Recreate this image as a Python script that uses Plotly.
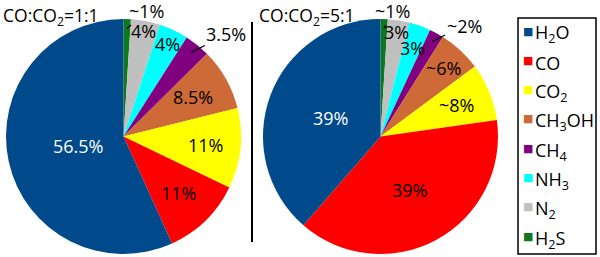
import math
import plotly.graph_objects as go

# ---- data (legend order) ----
species = ["H<sub>2</sub>O", "CO", "CO<sub>2</sub>", "CH<sub>3</sub>OH", "CH<sub>4</sub>",
           "NH<sub>3</sub>", "N<sub>2</sub>", "H<sub>2</sub>S"]
colors = ["#004a8c", "#ff0000", "#ffff00", "#cd6a37", "#800080", "#00ffff", "#c0c0c0", "#0b7a1f"]

vals_11 = [56.5, 11, 11, 8.5, 3.5, 4, 4, 1]
text_11 = ["56.5%", "11%", "11%", "8.5%", "3.5%", "4%", "4%", "~1%"]
vals_51 = [39, 39, 8, 6, 2, 3, 3, 1]
text_51 = ["39%", "39%", "~8%", "~6%", "~2%", "3%", "3%", "~1%"]

titles = ["CO:CO<sub>2</sub>=1:1", "CO:CO<sub>2</sub>=5:1"]

# ---- style ----
FONT = "Open Sans"
W, H = 600, 257
tcolors = ["white"] + ["black"] * 7
# label radius (fraction of R) for inside labels, None -> callout
rfrac_11 = [0.40, 0.67, 0.70, 0.68, None, 0.87, 0.91, None]
rfrac_51 = [0.45, 0.52, 0.70, 0.79, None, 0.80, 0.90, None]
# callout offsets (px) for small slices
call_11 = {4: (35, -18), 7: (20, -17)}
call_51 = {4: (32, -16), 7: (9, -17)}

pies = [
    dict(vals=vals_11, txt=text_11, rf=rfrac_11, call=call_11, cx=123.5, cy=136.5, R=117.5),
    dict(vals=vals_51, txt=text_51, rf=rfrac_51, call=call_51, cx=380.5, cy=136.5, R=117.5),
]

fig = go.Figure()
for p in pies:
    # clockwise order from 12 o'clock starts with the last legend entry
    fig.add_trace(go.Pie(
        labels=species[::-1], values=p["vals"][::-1],
        marker=dict(colors=colors[::-1], line=dict(width=0)),
        sort=False, direction="clockwise", rotation=0,
        textinfo="none", hoverinfo="skip", showlegend=False,
        domain=dict(x=[(p["cx"] - p["R"]) / W, (p["cx"] + p["R"]) / W],
                    y=[1 - (p["cy"] + p["R"]) / H, 1 - (p["cy"] - p["R"]) / H]),
    ))
    total = sum(p["vals"])
    cum = 0.0
    for i, v in enumerate(p["vals"]):
        # legend order goes counter-clockwise from 12 o'clock
        mid = -(cum + v / 2) / total * 2 * math.pi
        cum += v
        sx, sy = math.sin(mid), math.cos(mid)
        if p["rf"][i] is not None:
            r = p["rf"][i] * p["R"]
            fig.add_annotation(
                text=p["txt"][i], x=(p["cx"] + r * sx) / W, y=1 - (p["cy"] - r * sy) / H,
                xref="paper", yref="paper", showarrow=False,
                xanchor="center", yanchor="middle",
                font=dict(size=18, family=FONT, color=tcolors[i]))
        else:
            r = 0.92 * p["R"]
            ax, ay = p["call"][i]
            fig.add_annotation(
                text=p["txt"][i], x=(p["cx"] + r * sx) / W, y=1 - (p["cy"] - r * sy) / H,
                xref="paper", yref="paper", showarrow=True, arrowhead=0,
                arrowwidth=1.2, arrowcolor="black", ax=ax, ay=ay, standoff=0,
                font=dict(size=18, family=FONT, color="black"))

for t, x in zip(titles, [1, 257]):
    fig.add_annotation(text=t, x=x / W, y=1 - 1 / H, xref="paper", yref="paper",
                       xanchor="left", yanchor="top", showarrow=False,
                       font=dict(size=17.5, family=FONT, color="black"))

# divider
fig.add_shape(type="line", xref="paper", yref="paper",
              x0=252 / W, x1=252 / W, y0=1 - 242 / H, y1=1 - 22 / H,
              line=dict(color="black", width=2))

# custom legend box
fig.add_shape(type="rect", xref="paper", yref="paper",
              x0=518 / W, x1=596 / W, y0=1 - 254 / H, y1=1 - 18 / H,
              line=dict(color="black", width=1.5), fillcolor="rgba(0,0,0,0)")
for i, (sp, c) in enumerate(zip(species, colors)):
    yc = 32 + i * 29.3
    fig.add_annotation(text="■", x=527.5 / W, y=1 - (yc - 1) / H, xref="paper", yref="paper",
                       xanchor="center", yanchor="middle",
                       showarrow=False, font=dict(size=11, family="DejaVu Sans", color=c))
    fig.add_annotation(text=sp, x=533 / W, y=1 - (yc + 2) / H, xref="paper", yref="paper",
                       xanchor="left", yanchor="middle", showarrow=False,
                       font=dict(size=18, family=FONT, color="black"))

fig.update_layout(
    width=W, height=H, margin=dict(l=0, r=0, t=0, b=0, autoexpand=False),
    paper_bgcolor="white", plot_bgcolor="white", showlegend=False,
    font=dict(family=FONT),
)

fig.write_html("out.html", config={"displayModeBar": False},
               post_script="document.body.style.margin='0';document.body.style.overflow='hidden';")
